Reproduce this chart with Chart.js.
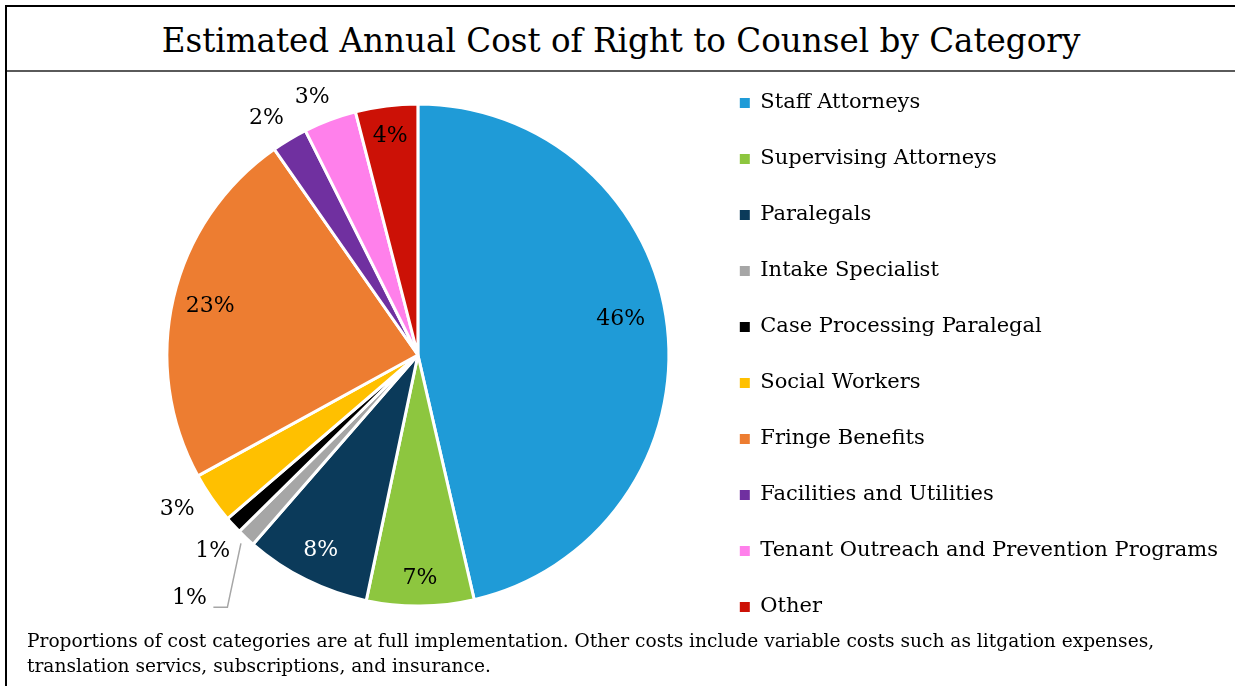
<!DOCTYPE html>
<html>
<head>
<meta charset="utf-8">
<script src="https://cdn.jsdelivr.net/npm/chart.js@4.4.1/dist/chart.umd.min.js"></script>
<style>
  body { margin: 0; width: 1235px; height: 686px; overflow: hidden; background: #fff; font-family: "DejaVu Serif", serif; }
  #frame { position: absolute; left: 5px; top: 5px; width: 1232px; height: 690px; border-top: 2.5px solid #000; border-left: 2.5px solid #000; }
  #title { position: absolute; left: 7px; top: 10px; width: 1228px; height: 63px; line-height: 63px; text-align: center; font-size: 32.6px; color: #000; }
  #rule { position: absolute; left: 7px; top: 70px; width: 1228px; height: 2px; background: #5a5a5a; }
  #wrap { position: absolute; left: 7px; top: 50px; width: 1228px; height: 610px; z-index: 2; }
  #note { position: absolute; left: 27px; top: 628px; width: 1190px; font-size: 18.6px; line-height: 25px; color: #000; z-index: 3; }
</style>
</head>
<body>
<div id="frame"></div>
<div id="title">Estimated Annual Cost of Right to Counsel by Category</div>
<div id="rule"></div>
<div id="wrap"><canvas id="costChart" width="1228" height="610"></canvas></div>
<div id="note">Proportions of cost categories are at full implementation. Other costs include variable costs such as litgation expenses, translation servics, subscriptions, and insurance.</div>
<script>
// data
const categories = ["Staff Attorneys", "Supervising Attorneys", "Paralegals", "Intake Specialist",
    "Case Processing Paralegal", "Social Workers", "Fringe Benefits", "Facilities and Utilities",
    "Tenant Outreach and Prevention Programs", "Other"];
const shares = [46.4, 6.9, 8.1, 1.2, 1.1, 3.3, 23.3, 2.3, 3.4, 4.0];
const pctLabels = ["46%", "7%", "8%", "1%", "1%", "3%", "23%", "2%", "3%", "4%"];
const sliceColors = ["#1f9bd7", "#8dc63f", "#0b3a5a", "#a6a6a6", "#000000",
    "#ffc000", "#ed7d31", "#7030a0", "#ff80eb", "#cc1106"];

// where each percentage sits: share of the radius, and a small turn in degrees
const labelRadius = [0.82, 0.89, 0.87, 1.33, 1.13, 1.14, 0.85, 1.12, 1.11, 0.88];
const labelTurn = [-3.5, 0, 0, 0, -1, 2, 0, -1.8, -1.8, 0];
const labelInk = ["#000", "#000", "#fff", "#000", "#000", "#000", "#000", "#000", "#000", "#000"];
const leaderSlice = 3;

const pieLabels = {
    id: "pieLabels",
    afterDatasetsDraw(chart) {
        const ctx = chart.ctx;
        const arcs = chart.getDatasetMeta(0).data;
        ctx.save();
        ctx.font = "22px 'DejaVu Serif'";
        ctx.textAlign = "center";
        ctx.textBaseline = "middle";
        arcs.forEach((arc, i) => {
            const p = arc.getProps(["x", "y", "startAngle", "endAngle", "outerRadius"], true);
            const mid = (p.startAngle + p.endAngle) / 2;
            const a = mid + labelTurn[i] * Math.PI / 180;
            const r = p.outerRadius * labelRadius[i];
            const lx = p.x + Math.cos(a) * r;
            const ly = p.y + Math.sin(a) * r;
            if (i === leaderSlice) {
                ctx.strokeStyle = "#a6a6a6";
                ctx.lineWidth = 1.5;
                ctx.beginPath();
                ctx.moveTo(p.x + Math.cos(mid) * p.outerRadius * 1.03, p.y + Math.sin(mid) * p.outerRadius * 1.03);
                ctx.lineTo(lx + 38, ly + 9);
                ctx.lineTo(lx + 24, ly + 9);
                ctx.stroke();
            }
            ctx.fillStyle = labelInk[i];
            ctx.fillText(pctLabels[i], lx, ly);
        });
        ctx.restore();
    }
};

const cost_config = {
    type: "pie",
    data: {
        labels: categories,
        datasets: [{
            label: "Share of cost",
            data: shares,
            backgroundColor: sliceColors,
            borderColor: "#ffffff",
            borderWidth: 3,
        }],
    },
    options: {
        responsive: false,
        animation: false,
        radius: 251,
        layout: { padding: { left: 124, right: 7, top: 0, bottom: 0 } },
        plugins: {
            tooltip: { enabled: false },
            legend: {
                position: "right",
                align: "center",
                labels: {
                    boxWidth: 10,
                    boxHeight: 10,
                    padding: 35,
                    color: "#000",
                    font: { family: "DejaVu Serif", size: 21 },
                    generateLabels: (chart) =>
                        Chart.overrides.pie.plugins.legend.labels.generateLabels(chart)
                            .map(l => Object.assign(l, { lineWidth: 0 })),
                },
            },
        },
    },
    plugins: [pieLabels],
};

const costChart = new Chart(document.getElementById("costChart").getContext("2d"), cost_config);
</script>
</body>
</html>
